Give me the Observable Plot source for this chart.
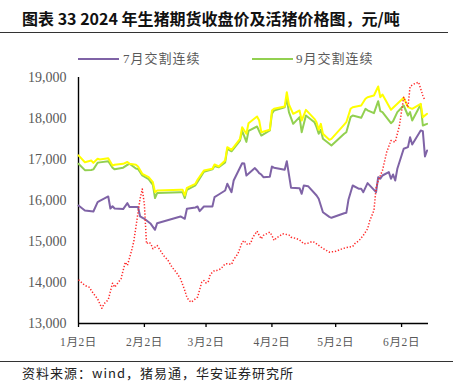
<!DOCTYPE html>
<html><head><meta charset="utf-8">
<script src="https://cdn.jsdelivr.net/npm/d3@7"></script>
<script src="https://cdn.jsdelivr.net/npm/@observablehq/plot@0.6"></script>
<style>
body{margin:0;background:#fff;}
#wrap{position:relative;width:453px;height:392px;overflow:hidden;font-family:"Noto Sans CJK SC",sans-serif;}
#title{position:absolute;left:22px;top:8px;font-size:16px;line-height:20px;font-weight:bold;color:#111;white-space:nowrap;}
.rule{position:absolute;left:0;height:0;border-top:1.5px solid #333;}
.lg-line{position:absolute;height:2px;}
.lg-text{position:absolute;font-family:"Liberation Serif","Noto Sans CJK SC",serif;font-size:13px;line-height:16px;letter-spacing:1px;color:#595959;white-space:nowrap;}
#chart{position:absolute;left:0;top:66px;}
#chart svg g[aria-label="x-axis tick label"] text{letter-spacing:0.6px;}
#source{position:absolute;left:22px;top:364px;font-size:13px;line-height:18px;letter-spacing:1px;color:#222;white-space:nowrap;}
</style></head>
<body>
<div id="wrap">
  <div id="title">图表 33 2024 年生猪期货收盘价及活猪价格图，元/吨</div>
  <div class="rule" style="top:32px;width:448px;"></div>
  <div id="legend"></div>
  <div id="chart"></div>
  <div class="rule" style="top:361px;width:453px;"></div>
  <div id="source">资料来源：wind，猪易通，华安证券研究所</div>
</div>
<script>
// ---- data ----
const seriesNames = ["7月交割连续", "9月交割连续", "11月交割连续", "活猪价格"];
const legendNames = ["7月交割连续", "9月交割连续"];
const colors = ["#7F63A6", "#92D050", "#FFFF00", "#FF2A2A"];

const jul_dates = ["01-02","01-05","01-09","01-11","01-12","01-16","01-17","01-18","01-19","01-23","01-25","01-26","01-30","01-31","02-02","02-05","02-07","02-08","02-19","02-21","02-22","02-26","02-27","02-28","03-01","03-05","03-06","03-08","03-11","03-12","03-14","03-15","03-19","03-20","03-21","03-25","03-26","03-27","03-28","03-29","04-01","04-02","04-03","04-08","04-09","04-11","04-15","04-16","04-17","04-19","04-23","04-24","04-25","04-26","04-29","04-30","05-06","05-07","05-08","05-10","05-13","05-14","05-15","05-17","05-20","05-21","05-22","05-23","05-24","05-27","05-28","05-29","05-30","05-31","06-03","06-05","06-06","06-07","06-11","06-12","06-13","06-14"];
const jul_vals = [15878,15756,15732,15961,15990,16098,15805,15860,15805,15790,15935,15840,15840,15610,15553,15431,15285,15447,15610,15553,15797,15830,15854,15740,15854,15854,16082,16146,16244,16407,16203,16488,16910,16900,16610,16790,16732,16667,16634,16569,16580,16829,16800,16749,16959,16310,16300,16163,16366,16350,16122,16041,15878,15715,15600,15578,15690,15700,16017,16366,16285,16285,16203,16423,16260,16203,16569,16530,16610,16691,16529,16634,16488,16773,17261,17301,17545,17366,17707,17691,17073,17220];

const sep_dates = ["01-02","01-05","01-08","01-09","01-11","01-12","01-16","01-18","01-19","01-23","01-25","01-26","01-29","01-30","02-01","02-04","02-06","02-07","02-08","02-19","02-20","02-21","02-22","02-26","02-27","03-01","03-05","03-06","03-08","03-11","03-12","03-14","03-18","03-19","03-21","03-22","03-26","03-27","03-28","04-01","04-02","04-03","04-08","04-09","04-10","04-12","04-15","04-16","04-18","04-22","04-23","04-24","04-25","04-26","04-29","04-30","05-06","05-07","05-09","05-10","05-14","05-16","05-17","05-20","05-22","05-23","05-24","05-28","05-29","05-31","06-03","06-05","06-06","06-07","06-11","06-12","06-14"];
const sep_vals = [16895,16740,16745,16760,16920,16930,16960,16800,16760,16800,16870,16895,16780,16770,16610,16520,16380,16060,16180,16200,16200,16060,16260,16370,16450,16700,16760,16840,16810,16930,17260,17200,17460,17700,17430,17700,17805,17690,17585,17707,18114,18195,18276,18480,18155,17870,18033,17666,18073,17910,17788,17627,17724,17504,17382,17341,17627,17666,18033,18073,18017,18236,18200,18130,18422,18179,18155,17886,17934,18155,18317,18073,18155,17951,18342,17829,17870];

const nov_dates = ["01-02","01-05","01-08","01-09","01-11","01-12","01-16","01-18","01-19","01-23","01-25","01-26","01-29","01-30","02-01","02-04","02-06","02-07","02-08","02-19","02-20","02-21","02-22","02-26","02-27","03-01","03-05","03-06","03-08","03-11","03-12","03-14","03-18","03-19","03-21","03-22","03-26","03-27","03-28","04-01","04-02","04-03","04-08","04-09","04-10","04-12","04-15","04-16","04-18","04-22","04-23","04-24","04-25","04-26","04-29","04-30","05-06","05-07","05-09","05-10","05-14","05-16","05-17","05-20","05-22","05-23","05-24","05-28","05-31","06-03","06-05","06-07","06-11","06-12","06-14"];
const nov_vals = [17100,16934,16975,16919,17017,17000,17032,16854,16870,16895,16940,16895,16870,16829,16650,16569,16447,16203,16244,16261,16261,16122,16310,16407,16505,16732,16773,16878,16829,16976,17301,17236,17505,17788,17627,17886,18049,17951,17666,17724,18195,18236,18293,18642,18342,18114,18195,17951,18211,17992,17910,17724,17870,17627,17480,17504,17850,17910,18236,18276,18317,18480,18520,18561,18780,18520,18585,18212,18358,18505,18276,18236,18358,18033,18114];

const spot_dates = ["01-02","01-05","01-07","01-09","01-11","01-13","01-14","01-16","01-18","01-19","01-22","01-24","01-25","01-27","01-28","01-29","01-31","02-01","02-02","02-03","02-04","02-05","02-06","02-08","02-11","02-13","02-15","02-17","02-19","02-21","02-22","02-23","02-24","02-25","02-27","02-29","03-01","03-02","03-03","03-04","03-06","03-07","03-09","03-11","03-12","03-14","03-15","03-17","03-19","03-20","03-21","03-22","03-23","03-24","03-26","03-27","03-28","03-29","04-01","04-02","04-03","04-04","04-06","04-07","04-10","04-11","04-13","04-15","04-17","04-19","04-21","04-22","04-23","04-26","04-29","05-02","05-05","05-07","05-10","05-11","05-13","05-15","05-17","05-18","05-20","05-21","05-22","05-24","05-26","05-28","05-30","06-01","06-03","06-05","06-06","06-08","06-10","06-12","06-13"];
const spot_vals = [14066,13927,13886,13732,13600,13370,13480,13580,13983,13886,14090,14496,14415,14781,15000,15350,16050,16280,15900,14943,14983,14950,14821,14902,14659,14550,14374,14250,14090,13805,13640,13561,13520,13560,13642,14008,14049,13990,14008,14200,14293,14293,14334,14456,14456,14440,14560,14700,14983,15024,14943,14919,14960,15100,15252,15150,15065,15150,15228,15150,15024,15080,15150,15187,15160,15106,15080,15040,14943,14960,15000,14980,14943,14830,14740,14760,14821,14850,14878,14950,15024,15150,15309,15500,15760,16300,16480,16732,17179,17463,17423,17829,18520,18276,18780,18846,18886,18561,18440];

const xTicks = ["01-02","02-02","03-02","04-02","05-02","06-02"];
const yTicks = [13000,14000,15000,16000,17000,18000,19000];

// ---- build ----
const parse = s => new Date("2024-" + s + "T00:00:00Z");
const rows = (ds, vs, name) => ds.map((d, i) => ({date: parse(d), value: vs[i], series: name}));
const dJul = rows(jul_dates, jul_vals, seriesNames[0]);
const dSep = rows(sep_dates, sep_vals, seriesNames[1]);
const dNov = rows(nov_dates, nov_vals, seriesNames[2]);
const dSpot = rows(spot_dates, spot_vals, seriesNames[3]);

const x0 = parse("01-02");
const x1 = new Date(Date.UTC(2024, 5, 14, 16));
const tickFont = '"Liberation Serif","Noto Sans CJK SC",serif';

const chart = Plot.plot({
  width: 453, height: 290,
  marginLeft: 78, marginRight: 25, marginTop: 11, marginBottom: 33,
  style: {background: "transparent", fontFamily: tickFont, overflow: "visible"},
  x: {type: "utc", domain: [x0, x1]},
  y: {domain: [13000, 19000]},
  marks: [
    Plot.axisY(yTicks, {tickSize: 0, tickPadding: 12, tickFormat: d3.format(","), fontSize: 14, fill: "#595959", label: null, fontFamily: '"Liberation Serif",serif'}),
    Plot.axisX(xTicks.map(parse), {tickSize: 4, tickPadding: 10, stroke: "#000", strokeWidth: 1.3,
      tickFormat: d => `${d.getUTCMonth() + 1}月${d.getUTCDate()}日`, fontSize: 11.5, fill: "#595959", label: null}),
    Plot.ruleX([x0], {stroke: "#000", strokeWidth: 1.4}),
    Plot.ruleY([13000], {stroke: "#000", strokeWidth: 1.4}),
    Plot.lineY(dJul, {x: "date", y: "value", stroke: colors[0], strokeWidth: 2}),
    Plot.lineY(dSep, {x: "date", y: "value", stroke: colors[1], strokeWidth: 2}),
    Plot.lineY(dNov, {x: "date", y: "value", stroke: colors[2], strokeWidth: 2}),
    Plot.lineY(dSpot, {x: "date", y: "value", stroke: colors[3], strokeWidth: 1.5, strokeDasharray: "1.3,1.8", strokeLinecap: "butt"})
  ]
});
document.getElementById("chart").appendChild(chart);

// legend
const lg = document.getElementById("legend");
const lgPos = [{line: 78, text: 123}, {line: 252, text: 296}];
legendNames.forEach((name, i) => {
  const ln = document.createElement("div");
  ln.className = "lg-line";
  ln.style.left = lgPos[i].line + "px";
  ln.style.top = "58px";
  ln.style.width = "41px";
  ln.style.background = colors[i];
  lg.appendChild(ln);
  const tx = document.createElement("div");
  tx.className = "lg-text";
  tx.style.left = lgPos[i].text + "px";
  tx.style.top = "51px";
  tx.textContent = name;
  lg.appendChild(tx);
});
</script>
</body></html>
